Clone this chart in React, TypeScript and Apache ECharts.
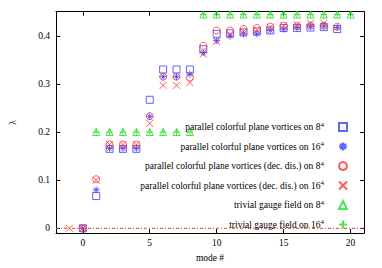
import React, { useEffect, useRef } from "react";
import * as echarts from "echarts";

// ---- data ----
const modes = [0, 1, 2, 3, 4, 5, 6, 7, 8, 9, 10, 11, 12, 13, 14, 15, 16, 17, 18, 19];
const modesDec16 = [-1, 0, 1, 2, 3, 4, 5, 6, 7, 8, 9, 10, 11, 12, 13, 14, 15, 16, 17, 18];
const trivialModes = [1, 2, 3, 4, 5, 6, 7, 8, 9, 10, 11, 12, 13, 14, 15, 16, 17, 18, 19, 20];

const parallel8 = [0, 0.067, 0.165, 0.165, 0.165, 0.267, 0.33, 0.33, 0.33, 0.372, 0.404, 0.405, 0.407, 0.409, 0.411, 0.416, 0.416, 0.417, 0.418, 0.414];
const parallel16 = [0, 0.08, 0.166, 0.166, 0.166, 0.232, 0.315, 0.315, 0.32, 0.365, 0.39, 0.399, 0.404, 0.404, 0.411, 0.414, 0.417, 0.419, 0.42, 0.417];
const decDis8 = [0, 0.102, 0.174, 0.174, 0.174, 0.233, 0.315, 0.315, 0.313, 0.379, 0.411, 0.411, 0.414, 0.416, 0.419, 0.421, 0.42, 0.421, 0.421, 0.419];
const decDis16 = [0, 0, 0.1, 0.174, 0.174, 0.174, 0.218, 0.297, 0.297, 0.303, 0.362, 0.388, 0.403, 0.409, 0.412, 0.418, 0.421, 0.423, 0.426, 0.426];
const trivial8 = [0.2, 0.2, 0.2, 0.2, 0.2, 0.2, 0.2, 0.2, 0.444, 0.444, 0.444, 0.444, 0.444, 0.444, 0.444, 0.444, 0.444, 0.444, 0.444, 0.444];
const trivial16 = [0.2, 0.2, 0.2, 0.2, 0.2, 0.2, 0.2, 0.2, 0.444, 0.444, 0.444, 0.444, 0.444, 0.444, 0.444, 0.444, 0.444, 0.444, 0.444, 0.444];
const zeroLineX = [-2, 21];

const xTicks = [0, 5, 10, 15, 20];
const yTicks = [0, 0.1, 0.2, 0.3, 0.4];

const names = [
  "parallel colorful plane vortices on 8",
  "parallel colorful plane vortices on 16",
  "parallel colorful plane vortices (dec. dis.) on 8",
  "parallel colorful plane vortices (dec. dis.) on 16",
  "trivial gauge field on 8",
  "trivial gauge field on 16",
];

const FONT = "Liberation Serif";
const BLUE = "#3c3cff";
const RED = "#ff3030";
const GREEN = "#22dd22";

const STAR = "path://M5 0L5 10M0 5L10 5M1.5 1.5L8.5 8.5M1.5 8.5L8.5 1.5";
const CROSS = "path://M0 0L10 10M10 0L0 10";
const PLUS = "path://M5 0L5 10M0 5L10 5";

function pts(xs: number[], ys: number[]) {
  return xs.map((x, i) => [x, ys[i]]);
}

function scatter(name: string, xs: number[], ys: number[], symbol: string, size: number, color: string) {
  return {
    name,
    type: "scatter",
    data: pts(xs, ys),
    symbol,
    symbolSize: size,
    itemStyle: { color: "rgba(0,0,0,0)", borderColor: color, borderWidth: 1 },
    emphasis: { disabled: true },
  };
}

function axisCommon(ticks: number[]) {
  return {
    type: "value",
    axisLine: { show: true, onZero: false, lineStyle: { color: "#000", width: 1 } },
    axisTick: { show: true, inside: true, length: 4, customValues: ticks, lineStyle: { color: "#000", width: 1 } },
    splitLine: { show: false },
  };
}

export default function App() {
  const ref = useRef<HTMLDivElement>(null);
  useEffect(() => {
    if (!ref.current) return;
    const chart = echarts.init(ref.current, undefined, { renderer: "svg" });
    const labelStyle = { fontFamily: FONT, fontSize: 9.5, color: "#000" };
    chart.setOption({
      animation: false,
      backgroundColor: "#fff",
      grid: { left: 46.7, right: 18, top: 11.7, bottom: 31, containLabel: false },
      xAxis: [
        {
          ...axisCommon(xTicks),
          min: -2,
          max: 21,
          position: "bottom",
          axisLabel: { customValues: xTicks, margin: 5, ...labelStyle },
          name: "mode #",
          nameLocation: "middle",
          nameGap: 19,
          nameTextStyle: { ...labelStyle },
        },
        {
          ...axisCommon(xTicks),
          min: -2,
          max: 21,
          position: "top",
          axisLabel: { show: false },
        },
      ],
      yAxis: [
        {
          ...axisCommon(yTicks),
          min: -0.01,
          max: 0.45,
          position: "left",
          axisLabel: { customValues: yTicks, margin: 6, ...labelStyle },
          name: "λ",
          nameLocation: "middle",
          nameRotate: 90,
          nameGap: 38,
          nameTextStyle: { ...labelStyle },
        },
        {
          ...axisCommon(yTicks),
          min: -0.01,
          max: 0.45,
          position: "right",
          axisLabel: { show: false },
        },
      ],
      legend: {
        data: names,
        orient: "vertical",
        align: "right",
        right: 34,
        top: 121,
        padding: 0,
        itemGap: 8.5,
        itemWidth: 8,
        itemHeight: 8,
        selectedMode: false,
        formatter: (n: string) => `{t|${n}}{sup|4}`,
        textStyle: {
          ...labelStyle,
          padding: [0, 10, 0, 0],
          rich: {
            t: { fontFamily: FONT, fontSize: 9.5, lineHeight: 12, color: "#000" },
            sup: { fontFamily: FONT, fontSize: 7, lineHeight: 7, verticalAlign: "top", color: "#000" },
          },
        },
      },
      series: [
        {
          name: "zero",
          type: "line",
          data: zeroLineX.map((x) => [x, 0]),
          symbol: "none",
          silent: true,
          lineStyle: { color: "#e0401e", width: 1, type: [3, 2, 1, 2] },
          z: 1,
        },
        scatter(names[0], modes, parallel8, "rect", 7, BLUE),
        scatter(names[1], modes, parallel16, STAR, 7, BLUE),
        scatter(names[2], modes, decDis8, "circle", 7, RED),
        scatter(names[3], modesDec16, decDis16, CROSS, 7, RED),
        scatter(names[4], trivialModes, trivial8, "triangle", 7, GREEN),
        scatter(names[5], trivialModes, trivial16, PLUS, 7, GREEN),
      ],
    });
    return () => chart.dispose();
  }, []);
  return <div ref={ref} style={{ position: "absolute", left: 0, top: 0, width: 382, height: 268 }} />;
}
